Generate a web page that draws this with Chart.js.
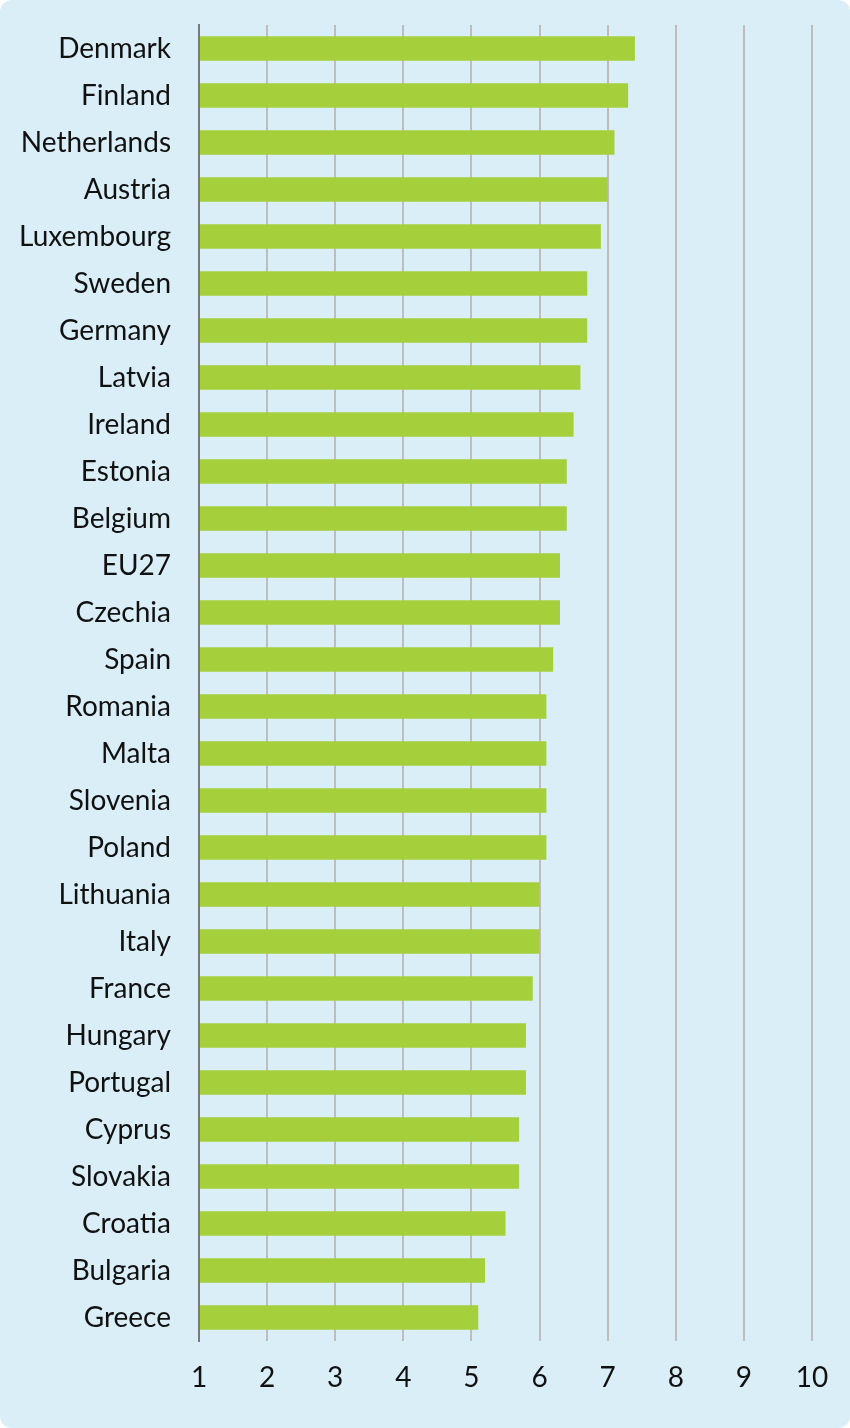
<!DOCTYPE html>
<html>
<head>
<meta charset="utf-8">
<script src="https://cdn.jsdelivr.net/npm/chart.js@4"></script>
<style>
  html, body { margin: 0; padding: 0; background: #ffffff; }
  #wrap {
    width: 850px; height: 1428px;
    background: #daeef7;
    border-radius: 12px;
    position: relative;
  }
  canvas { position: absolute; left: 0; top: 0; }
</style>
</head>
<body>
<div id="wrap"><canvas id="myChart" width="850" height="1428"></canvas></div>
<script>
    var countries = ['Denmark', 'Finland', 'Netherlands', 'Austria', 'Luxembourg', 'Sweden', 'Germany',
        'Latvia', 'Ireland', 'Estonia', 'Belgium', 'EU27', 'Czechia', 'Spain', 'Romania', 'Malta',
        'Slovenia', 'Poland', 'Lithuania', 'Italy', 'France', 'Hungary', 'Portugal', 'Cyprus',
        'Slovakia', 'Croatia', 'Bulgaria', 'Greece']
    var scores = [7.4, 7.3, 7.1, 7.0, 6.9, 6.7, 6.7,
        6.6, 6.5, 6.4, 6.4, 6.3, 6.3, 6.2, 6.1, 6.1,
        6.1, 6.1, 6.0, 6.0, 5.9, 5.8, 5.8, 5.7,
        5.7, 5.5, 5.2, 5.1]
    var xMin = 1
    var xMax = 10

    var labelFont = { family: 'Lato', size: 28 }

    var ctx = document.getElementById('myChart').getContext('2d');
    var myChart = new Chart(ctx, {
        type: 'bar',
        data: {
            labels: countries,
            datasets: [{
                data: scores,
                base: xMin,
                backgroundColor: '#a5cf3b',
                borderWidth: 0,
                barPercentage: 0.52,
                categoryPercentage: 1.0
            }]
        },
        options: {
            indexAxis: 'y',
            responsive: false,
            animation: false,
            layout: { padding: { top: 25, right: 38, left: 0, bottom: 0 } },
            plugins: {
                legend: { display: false },
                tooltip: { enabled: false }
            },
            scales: {
                x: {
                    min: xMin,
                    max: xMax,
                    ticks: { stepSize: 1, color: '#111', font: labelFont, padding: 20 },
                    grid: { color: '#bdbdbd', lineWidth: 2, drawTicks: false },
                    border: { display: false },
                    afterFit: function(scale) { scale.height = 87 }
                },
                y: {
                    ticks: { color: '#111', font: labelFont, padding: 28 },
                    grid: { display: false, drawTicks: false },
                    border: { display: true, color: '#7a7a7a', width: 2 },
                    afterFit: function(scale) {
                        scale.width = 199
                        // label padding shouldn't push the plot down
                        scale.paddingTop = 0
                        scale.paddingBottom = 0
                    }
                }
            }
        }
    });
</script>
</body>
</html>
